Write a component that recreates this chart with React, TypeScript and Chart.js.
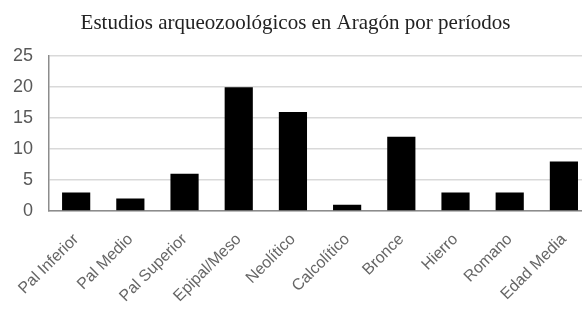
import React, { useEffect, useRef } from "react";
import { Chart, registerables } from "chart.js";

Chart.register(...registerables);

const TITLE = "Estudios arqueozoológicos en Aragón por períodos";
const categories = [
  "Pal Inferior",
  "Pal Medio",
  "Pal Superior",
  "Epipal/Meso",
  "Neolítico",
  "Calcolítico",
  "Bronce",
  "Hierro",
  "Romano",
  "Edad Media",
];
const values = [3, 2, 6, 20, 16, 1, 12, 3, 3, 8];
const yTicks = [0, 5, 10, 15, 20, 25];

export default function App() {
  const ref = useRef<HTMLCanvasElement | null>(null);
  useEffect(() => {
    if (!ref.current) return;
    const chart = new Chart(ref.current, {
      type: "bar",
      data: {
        labels: categories,
        datasets: [
          {
            data: values,
            backgroundColor: "#000000",
            borderColor: "#000000",
            borderWidth: 0,
            barPercentage: 0.52,
            categoryPercentage: 1,
          },
        ],
      },
      options: {
        animation: false,
        responsive: false,
        maintainAspectRatio: false,
        layout: { padding: { top: 11, right: 9, left: 0, bottom: 0 } },
        plugins: {
          legend: { display: false },
          tooltip: { enabled: false },
          title: {
            display: true,
            text: TITLE,
            color: "#222222",
            font: { family: "'Liberation Serif', 'Times New Roman', serif", size: 21, weight: "normal" },
            padding: { top: 0, bottom: 20 },
          },
        },
        scales: {
          x: {
            grid: { display: false, drawTicks: false },
            border: { display: true, color: "#8c8c8c", width: 1.5 },
            ticks: {
              color: "#666666",
              font: { family: "'Liberation Sans', Arial, sans-serif", size: 16 },
              maxRotation: 45,
              minRotation: 45,
              padding: 19,
              autoSkip: false,
            },
            afterFit: (s: any) => {
              s.height = 98;
            },
          },
          y: {
            min: 0,
            max: 25,
            afterBuildTicks: (s: any) => {
              s.ticks = yTicks.map((v) => ({ value: v }));
            },
            grid: { color: "#d9d9d9", lineWidth: 1.5, drawTicks: false },
            border: { display: true, color: "#8c8c8c", width: 1.5 },
            ticks: {
              color: "#595959",
              font: { family: "'Liberation Sans', Arial, sans-serif", size: 18 },
              padding: 16,
            },
            afterFit: (s: any) => {
              s.width = 49;
            },
          },
        },
      },
    });
    return () => chart.destroy();
  }, []);
  return (
    <div style={{ position: "fixed", left: 0, top: 0, width: 582, height: 309, overflow: "hidden", background: "#fff" }}>
      <canvas ref={ref} width={600} height={309} style={{ display: "block" }} />
    </div>
  );
}
